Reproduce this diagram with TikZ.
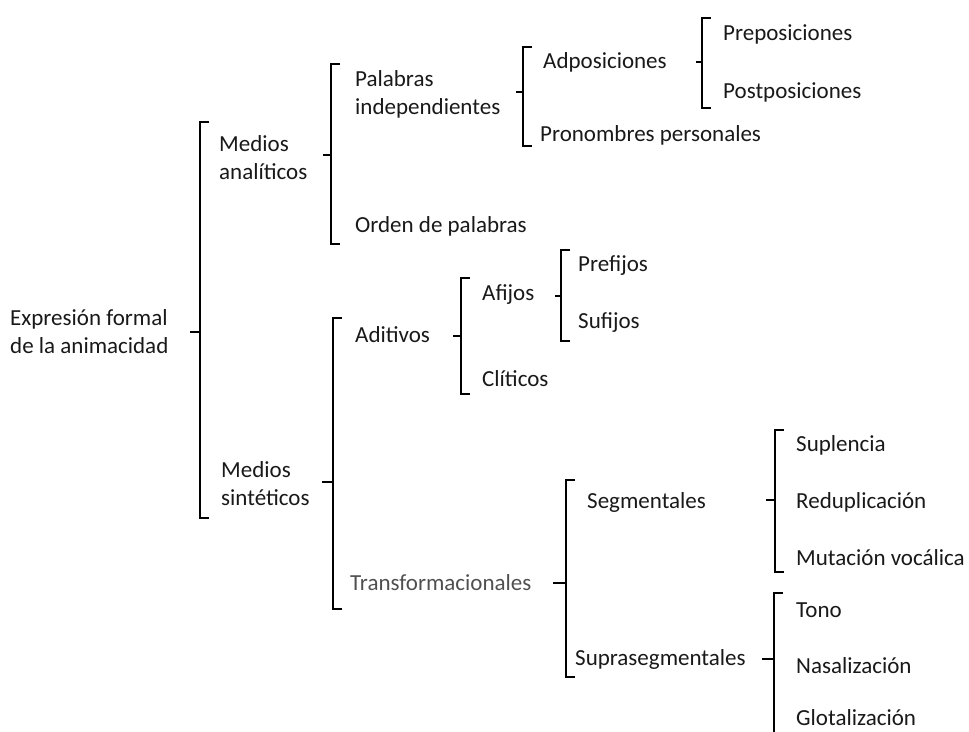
\documentclass[tikz,border=0pt]{standalone}
\usepackage{fontspec}
\setmainfont{Carlito}
\definecolor{ink}{RGB}{25,25,25}
\definecolor{soft}{RGB}{80,80,80}

\begin{document}
\begin{tikzpicture}[x=1pt, y=-1pt,
    item/.style={anchor=west, inner sep=0pt, align=left, text=ink,
      font=\fontsize{23}{28}\selectfont},
    brk/.style={line width=2.8pt, line cap=butt, line join=miter}]
  \useasboundingbox (0,0) rectangle (969,731);

  % Root
  \node[item] (root) at (10,332) {Expresión formal\\de la animacidad};

  % Level 1
  \node[item] (ana) at (219,158) {Medios\\analíticos};
  \node[item] (sin) at (221,484) {Medios\\sintéticos};

  % Analytic branch
  \node[item] (pal) at (355,94) {Palabras\\independientes};
  \node[item] (ord) at (355,226) {Orden de palabras};
  \node[item] (adp) at (543,62) {Adposiciones};
  \node[item] (pro) at (540,135) {Pronombres personales};
  \node[item] (pre) at (723,34) {Preposiciones};
  \node[item] (pos) at (723,92) {Postposiciones};

  % Synthetic branch
  \node[item] (adi) at (355,335) {Aditivos};
  \node[item, text=soft] (tra) at (350,583) {Transformacionales};
  \node[item] (afi) at (482,295) {Afijos};
  \node[item] (cli) at (482,379) {Clíticos};
  \node[item] (prf) at (578,266) {Prefijos};
  \node[item] (suf) at (578,323) {Sufijos};
  \node[item] (seg) at (587,502) {Segmentales};
  \node[item] (sup) at (575,659) {Suprasegmentales};

  % Leaves
  \node[item] (spl) at (796,445) {Suplencia};
  \node[item] (red) at (796,502) {Reduplicación};
  \node[item] (mut) at (796,558) {Mutación vocálica};
  \node[item] (ton) at (796,610) {Tono};
  \node[item] (nas) at (796,666) {Nasalización};
  \node[item] (glo) at (796,718) {Glotalización};

  % Brackets: x / top / bottom / middle / nub end
  \foreach \bx/\bt/\bb/\bm/\bn in {200/122/518/332/190, 331/64/244/155/323,
      523/47/146/92/516, 702/18/108/62/696, 333/318/609/482/322,
      461/278/394/336/453, 561/250/341/296/555, 566/480/677/583/553,
      775/430/572/500/766, 774/593/745/659/762}{
    \draw[brk] (\bx+9,\bt) -- (\bx,\bt) -- (\bx,\bb) -- (\bx+9,\bb);
    \draw[brk] (\bx,\bm) -- (\bn,\bm);
  }
\end{tikzpicture}
\end{document}
